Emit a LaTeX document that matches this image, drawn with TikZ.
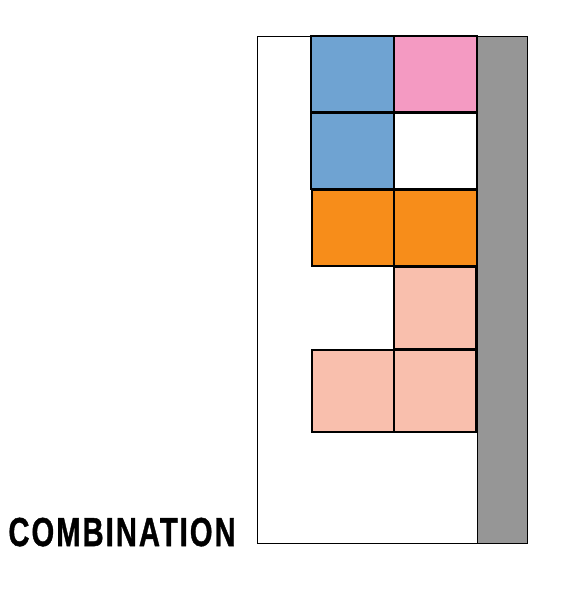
\documentclass[tikz,border=0pt]{standalone}
\usepackage{fontspec}
\setmainfont{Liberation Sans}
\newfontfamily\labelfont[FakeBold=1.2, LetterSpace=7]{Liberation Sans}
\definecolor{cellblue}{HTML}{6FA3D2}
\definecolor{cellpink}{HTML}{F49AC2}
\definecolor{cellorange}{HTML}{F78D1A}
\definecolor{cellsalmon}{HTML}{F9BFAD}
\definecolor{wallgray}{HTML}{969696}
\begin{document}
\begin{tikzpicture}[x=1pt, y=-1pt, line width=1.3pt]
    \def\w{83}
    \useasboundingbox (0,0) rectangle (564,592);
    % Frame
    \draw[line width=1pt] (257,36) rectangle (527,543);
    % Wall
    \filldraw[fill=wallgray, draw=black, line width=1pt] (477,36) rectangle (527,543);
    % Row 1
    \filldraw[fill=cellblue] (311,36) rectangle ++(\w,76);
    \filldraw[fill=cellpink] (394,36) rectangle ++(\w,76);
    % Row 2
    \filldraw[fill=cellblue] (311,113) rectangle ++(\w,76);
    \draw (394,113) rectangle ++(\w,76);
    % Row 3
    \filldraw[fill=cellorange] (312,190) rectangle ++(82,76);
    \filldraw[fill=cellorange] (394,190) rectangle ++(\w,76);
    % Row 4
    \filldraw[fill=cellsalmon] (394,267) rectangle ++(82,82);
    % Row 5
    \filldraw[fill=cellsalmon] (312,350) rectangle ++(82,82);
    \filldraw[fill=cellsalmon] (394,350) rectangle ++(82,82);
    % Label
    \node[anchor=base west, inner sep=0pt, xscale=0.72, font=\fontsize{40.5}{40}\labelfont\bfseries] (label) at (8,546) {COMBINATION};
\end{tikzpicture}
\end{document}
